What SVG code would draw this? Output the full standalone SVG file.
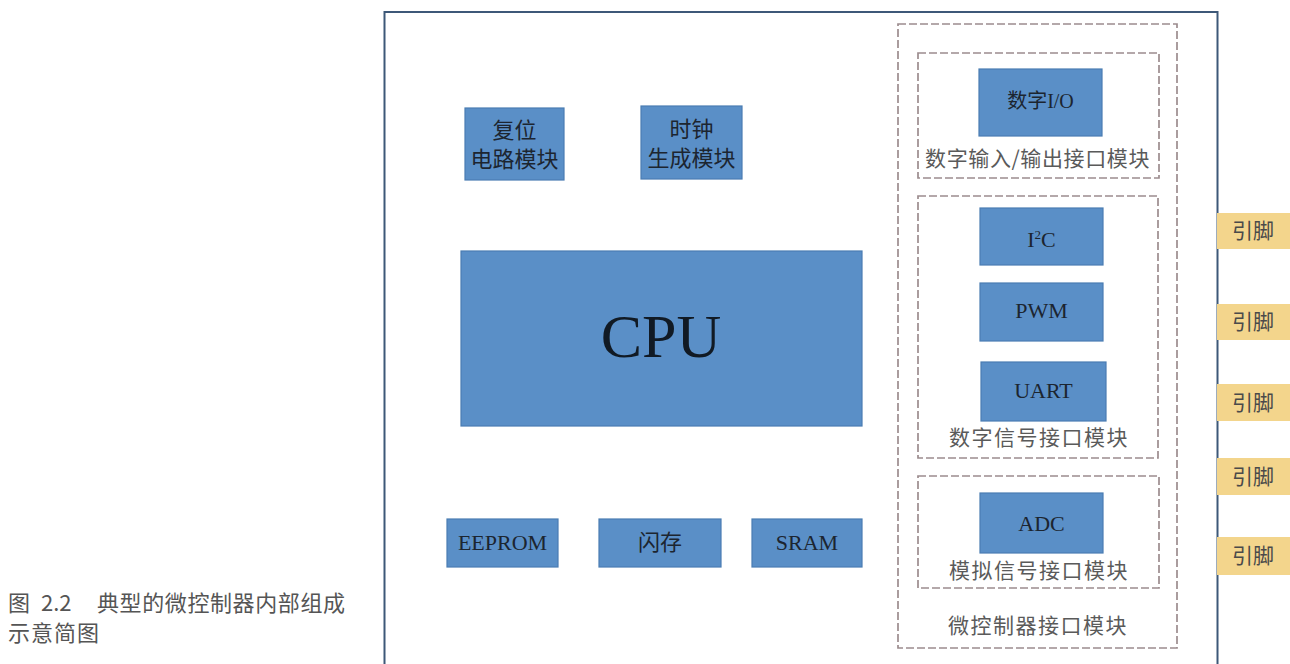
<svg xmlns="http://www.w3.org/2000/svg" width="1290" height="664" viewBox="0 0 1290 664">
<style>
.blk{fill:#5a8fc7;stroke:#4a7cb2;stroke-width:1.2}
.dash{fill:none;stroke:#9c8c8e;stroke-width:1.7;stroke-dasharray:8 3}
.cn{font-family:"Noto Sans CJK SC",sans-serif;font-size:22px;fill:#1c2530;text-anchor:middle}
.en{font-family:"Liberation Serif",serif;font-size:22px;fill:#1c2530;text-anchor:middle}
.lbl{font-family:"Noto Sans CJK SC",sans-serif;font-size:21px;fill:#5a5a5a;text-anchor:middle;letter-spacing:1.5px}
.tab{fill:#f3d58c}
.tabt{font-family:"Noto Sans CJK SC",sans-serif;font-size:21px;fill:#4a4a4a;text-anchor:middle}
.cap{font-family:"Noto Sans CJK SC",sans-serif;font-size:22px;fill:#555555}
</style>
<rect width="1290" height="664" fill="#ffffff"/>
<g id="mcu">
<rect x="384.5" y="12" width="833" height="670" fill="#ffffff" stroke="#3d5878" stroke-width="2"/>
</g>
<g id="reset">
<rect class="blk" x="465" y="108" width="99" height="72"/>
<text class="cn" x="514.5" y="138">复位</text>
<text class="cn" x="514.5" y="167">电路模块</text>
</g>
<g id="clock">
<rect class="blk" x="641" y="106" width="101" height="73"/>
<text class="cn" x="691.5" y="137">时钟</text>
<text class="cn" x="691.5" y="166">生成模块</text>
</g>
<g id="cpu">
<rect class="blk" x="461" y="251" width="401" height="175"/>
<text x="661" y="357" font-family="Liberation Serif, serif" font-size="62" fill="#111a24" text-anchor="middle">CPU</text>
</g>
<g id="eeprom">
<rect class="blk" x="447" y="519" width="111" height="48"/>
<text class="en" x="502.5" y="550">EEPROM</text>
</g>
<g id="flash">
<rect class="blk" x="599" y="519" width="122" height="48"/>
<text class="cn" x="660" y="550">闪存</text>
</g>
<g id="sram">
<rect class="blk" x="752" y="519" width="110" height="48"/>
<text class="en" x="807" y="550">SRAM</text>
</g>
<g id="interface">
<rect class="dash" x="898" y="24" width="279" height="624"/>
<text class="lbl" x="1038" y="633">微控制器接口模块</text>
</g>
<g id="digital-io-module">
<rect class="dash" x="918" y="53" width="241" height="125"/>
<text class="lbl" x="1038" y="166" textLength="226" lengthAdjust="spacing">数字输入/输出接口模块</text>
</g>
<g id="digital-io">
<rect class="blk" x="979" y="69" width="123" height="67"/>
<text x="1040.5" y="108" font-family="Noto Sans CJK SC, sans-serif" font-size="20" fill="#1c2530" text-anchor="middle">数字<tspan font-family="Liberation Serif, serif">I/O</tspan></text>
</g>
<g id="digital-signal-module">
<rect class="dash" x="918" y="196" width="240" height="262"/>
<text class="lbl" x="1039" y="445">数字信号接口模块</text>
</g>
<g id="i2c">
<rect class="blk" x="980" y="208" width="123" height="57"/>
<text class="en" x="1041.5" y="247">I<tspan font-size="13" dy="-8">2</tspan><tspan dy="8">C</tspan></text>
</g>
<g id="pwm">
<rect class="blk" x="980" y="283" width="123" height="58"/>
<text class="en" x="1041.5" y="318">PWM</text>
</g>
<g id="uart">
<rect class="blk" x="981" y="362" width="125" height="59"/>
<text class="en" x="1043.5" y="398">UART</text>
</g>
<g id="analog-module">
<rect class="dash" x="918" y="476" width="241" height="112"/>
<text class="lbl" x="1039" y="578">模拟信号接口模块</text>
</g>
<g id="adc">
<rect class="blk" x="980" y="493" width="123" height="60"/>
<text class="en" x="1041.5" y="531">ADC</text>
</g>
<g id="pin1"><rect class="tab" x="1217" y="213" width="73" height="36"/><text class="tabt" x="1253" y="238">引脚</text></g>
<g id="pin2"><rect class="tab" x="1217" y="304" width="73" height="36"/><text class="tabt" x="1253" y="329">引脚</text></g>
<g id="pin3"><rect class="tab" x="1217" y="384" width="73" height="37"/><text class="tabt" x="1253" y="410">引脚</text></g>
<g id="pin4"><rect class="tab" x="1217" y="458" width="73" height="37"/><text class="tabt" x="1253" y="484">引脚</text></g>
<g id="pin5"><rect class="tab" x="1217" y="537" width="73" height="38"/><text class="tabt" x="1253" y="563">引脚</text></g>
<g id="connectors"></g>
<g id="caption">
<text class="cap" y="611"><tspan x="8">图</tspan><tspan x="41">2.2</tspan><tspan x="97" letter-spacing="0.6">典型的微控制器内部组成</tspan></text>
<text class="cap" x="8" y="641" letter-spacing="1">示意简图</text>
</g>
</svg>
